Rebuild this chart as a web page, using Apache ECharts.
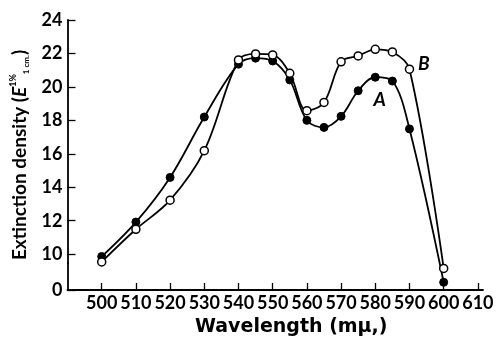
<!DOCTYPE html>
<html>
<head>
<meta charset="utf-8">
<script src="https://cdn.jsdelivr.net/npm/echarts@6/dist/echarts.min.js"></script>
<style>
  html, body { margin: 0; padding: 0; background: #fff; }
  #main { width: 499px; height: 342px; }
</style>
</head>
<body>
<div id="main"></div>
<script>
// 波长 (mμ)
var wavelengths = [500, 510, 520, 530, 540, 545, 550, 555, 560, 565, 570, 575, 580, 585, 590, 600];
// 曲线 A (实心点) / 曲线 B (空心点)
var seriesA = [9.86, 11.92, 14.59, 18.2, 21.36, 21.72, 21.55, 20.42, 18.0, 17.58, 18.24, 19.77, 20.58, 20.35, 17.49, 0.46];
var seriesB = [9.54, 11.49, 13.23, 16.19, 21.61, 21.97, 21.91, 20.81, 18.58, 19.07, 21.5, 21.85, 22.25, 22.09, 21.06, 1.29];
var yTicks = [0, 10, 12, 14, 16, 18, 20, 22, 24];
var xTicks = [500, 510, 520, 530, 540, 550, 560, 570, 580, 590, 600, 610];

var font = 'Lato';
var myChart = echarts.init(document.getElementById('main'));

function pairs(ys) {
    return wavelengths.map(function (x, i) { return [x, ys[i]]; });
}

function curveLabel(text) {
    return { show: true, position: 'inside', formatter: text, fontFamily: font, fontWeight: 'bold', fontStyle: 'italic', fontSize: 19, color: '#000' };
}

myChart.setOption({
    animation: false,
    backgroundColor: '#fff',
    grid: { left: 67.5, right: 16, top: 20, bottom: 51 },
    xAxis: {
        type: 'value',
        min: 490,
        max: 611.5,
        name: 'Wavelength (mμ,)',
        nameLocation: 'middle',
        nameGap: 28,
        nameTextStyle: { fontFamily: 'DejaVu Sans', fontWeight: 'bold', fontSize: 19, color: '#000', padding: [0, 0, 0, 32] },
        axisLine: { lineStyle: { color: '#000', width: 1.8 } },
        axisTick: { inside: true, length: 7, customValues: xTicks, lineStyle: { color: '#000', width: 1.3 } },
        splitLine: { show: false },
        axisLabel: {
            customValues: xTicks,
            margin: 4,
            fontFamily: font, fontWeight: 'bold', fontSize: 18, color: '#000'
        }
    },
    yAxis: {
        type: 'value',
        min: 0,
        max: 24,
        // 0 与 10 之间断轴
        breaks: [{ start: 1.6, end: 9.46, gap: 0 }],
        breakArea: { show: false },
        name: '{m|Extinction density (}{e|E}{sup|1%}{sub|1 cm.}{m|)}',
        nameLocation: 'middle',
        nameRotate: 90,
        nameGap: 25,
        nameTextStyle: {
            rich: {
                m: { fontFamily: font, fontWeight: 'bold', fontSize: 19, color: '#000', lineHeight: 22 },
                e: { fontFamily: font, fontWeight: 'bold', fontStyle: 'italic', fontSize: 19, color: '#000', lineHeight: 22 },
                sup: { fontFamily: font, fontWeight: 'bold', fontSize: 9, color: '#000', verticalAlign: 'top', lineHeight: 22 },
                sub: { fontFamily: font, fontWeight: 'bold', fontSize: 8, color: '#000', verticalAlign: 'bottom', lineHeight: 22 }
            }
        },
        axisLine: { lineStyle: { color: '#000', width: 1.8 } },
        axisTick: { inside: true, length: 8, customValues: yTicks, lineStyle: { color: '#000', width: 1.3 } },
        splitLine: { show: false },
        axisLabel: {
            customValues: yTicks,
            margin: 5,
            fontFamily: font, fontWeight: 'bold', fontSize: 18, color: '#000'
        }
    },
    series: [
        {
            name: 'A',
            type: 'line',
            data: pairs(seriesA),
            smooth: 0.35,
            symbol: 'circle',
            symbolSize: 8,
            lineStyle: { color: '#000', width: 1.8 },
            itemStyle: { color: '#000', borderColor: '#000', borderWidth: 1 },
            markPoint: {
                symbol: 'circle',
                symbolSize: 1,
                itemStyle: { color: 'rgba(0,0,0,0)' },
                data: [{ coord: [581.3, 19.2], value: 'A' }],
                label: curveLabel('A')
            }
        },
        {
            name: 'B',
            type: 'line',
            data: pairs(seriesB),
            smooth: 0.35,
            symbol: 'circle',
            symbolSize: 8,
            lineStyle: { color: '#000', width: 1.8 },
            itemStyle: { color: '#fff', borderColor: '#000', borderWidth: 1.5 },
            markPoint: {
                symbol: 'circle',
                symbolSize: 1,
                itemStyle: { color: 'rgba(0,0,0,0)' },
                data: [{ coord: [594.2, 21.4], value: 'B' }],
                label: curveLabel('B')
            }
        }
    ]
});
</script>
</body>
</html>
